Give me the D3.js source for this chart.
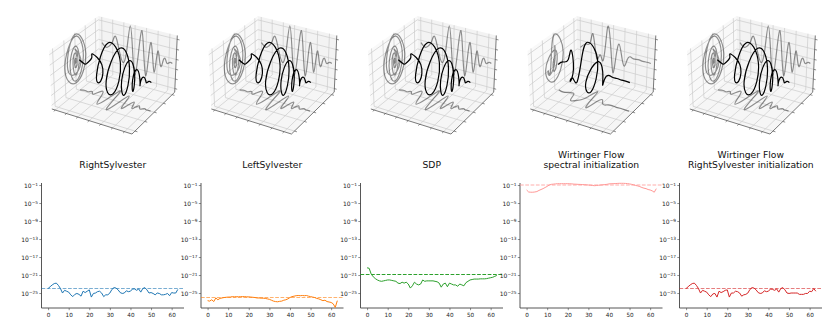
<!DOCTYPE html>
<html><head><meta charset="utf-8">
<script src="https://cdn.jsdelivr.net/npm/d3@7/dist/d3.min.js"></script>
<style>html,body{margin:0;background:#fff}svg{display:block;font-family:"DejaVu Sans",sans-serif}</style>
</head><body><svg id="c" width="830" height="332"></svg>
<script>
const titles = [["RightSylvester"],["LeftSylvester"],["SDP"],["Wirtinger Flow","spectral initialization"],["Wirtinger Flow","RightSylvester initialization"]];
const colors = ["#1f77b4","#ff7f0e","#2ca02c","#ff9896","#d62728"];
const dashAlpha = [0.6,0.6,1,0.8,0.6];
const xTicks = [0,10,20,30,40,50,60];
const yTickExp = [-1,-5,-9,-13,-17,-21,-25];
const refLevels = [-24,-26,-20.9,-1,-24];
const s1 = [-24,-23.6,-23.2,-22.9,-22.8,-23.3,-24,-25,-24.4,-24.6,-24.8,-25.4,-25.8,-25.3,-25.1,-25.3,-25.7,-24.6,-24.9,-24.6,-24.3,-25.9,-25.1,-25,-24.7,-24.6,-25,-25.8,-25.4,-25.4,-25,-24.2,-23.8,-23.9,-24.3,-24.9,-25.1,-25,-24.5,-24.7,-24.6,-24.1,-24.1,-24.4,-24.1,-24.8,-24,-23.8,-24.3,-25,-24.9,-25.1,-25.4,-25,-25.1,-25.4,-25.4,-25.3,-25.1,-25.6,-24.9,-25,-25,-24.2];
const s2 = [-26.7,-26.8,-26.5,-26.9,-26.1,-26.5,-26.2,-26.1,-26,-25.95,-25.9,-25.9,-25.8,-25.85,-25.8,-25.85,-25.8,-25.8,-25.8,-25.85,-25.85,-25.9,-25.95,-26,-26.1,-26.1,-26.15,-26.15,-26.2,-26.3,-26.4,-26.6,-26.8,-26.9,-26.95,-26.85,-26.8,-26.6,-26.5,-26.3,-26,-25.8,-25.7,-25.6,-25.55,-25.6,-25.55,-25.6,-25.55,-25.7,-25.8,-25.9,-26,-26.2,-26.3,-26.5,-26.7,-26.6,-26.9,-27,-27.1,-27.4,-28.2,-26.7];
const s3 = [-19.4,-19.5,-20.8,-21.4,-21.8,-22.1,-22.3,-22.4,-22.3,-22.2,-22.1,-22.1,-22.2,-22.3,-22.4,-22.8,-22.9,-22.6,-22.8,-22.6,-23,-23.9,-23.4,-22.6,-23,-23.2,-23,-22.1,-22.4,-22.3,-22.3,-22.3,-22.3,-22.4,-22.5,-22.8,-23.7,-23,-22.8,-23.6,-22.8,-23,-23.2,-23.2,-23.5,-23,-23.2,-23.4,-22.7,-22.4,-22.1,-22,-21.9,-21.9,-21.9,-21.85,-21.85,-21.85,-21.8,-21.7,-21.6,-21.5,-21.3,-21.1];
const s4 = [-2.1,-2.55,-2.6,-2.6,-2.55,-2.45,-2.2,-2,-1.8,-1.55,-1.3,-1,-0.85,-0.8,-0.75,-0.7,-0.7,-0.7,-0.7,-0.7,-0.7,-0.72,-0.75,-0.8,-0.82,-0.85,-0.87,-0.9,-0.92,-0.95,-1,-1.05,-1.1,-1.15,-1.1,-1.05,-1,-0.95,-0.9,-0.85,-0.75,-0.72,-0.7,-0.68,-0.65,-0.62,-0.62,-0.62,-0.65,-0.68,-0.75,-0.85,-0.95,-1.1,-1.2,-1.35,-1.55,-1.7,-1.8,-2,-2.1,-2.3,-2.6,-1.8];
const s5 = [-24,-23.6,-23.2,-22.9,-22.8,-23.3,-24,-25,-24.4,-24.6,-24.8,-25.4,-25.8,-25.2,-25.1,-25.9,-24.6,-24.9,-24.7,-24.4,-24.3,-25.9,-25,-25,-24.6,-24.7,-25,-25.7,-25.4,-25.3,-25,-24.2,-23.8,-23.9,-24.3,-24.9,-25.1,-25,-24.5,-24.7,-24.6,-24.1,-24.2,-24.4,-24.1,-24.8,-24,-23.8,-24.3,-25,-25.1,-25,-25,-25,-25,-25.3,-25.3,-25.3,-25.1,-25.1,-24.6,-24.7,-24,-24.6];
const allSeries = [s1,s2,s3,s4,s5];

// estimated 3D signal knots: sample index, real part, imaginary part
const sigT  = [0,4,7,9.8,12.6,16,19.5,22.8,25.8,28.2,30.5,33.3,36,38.2,40.4,42.3,44.2,46,47.7,49.2,50.6,52,53.6,55,56.5,57.8,59,61,63];
const sigRe = [.1,-.05,.05,.25,.5,-.05,-.5,.05,1.08,0,-.88,.05,1,0,-.8,0,.62,0,-.55,0,.35,-.02,-.25,0,.13,0,-.06,.02,0];
const sigIm = [.02,.06,.04,.1,0,.25,0,-.38,0,.5,0,-.5,0,.38,0,-.26,0,.18,0,-.12,0,.08,0,-.05,0,.03,0,0,0];
const specT  = [0,5,9,11.5,14,16,18.5,21,23.5,25.5,28,30,32.5,35,37.5,40,42.5,45,48,52,56,60,63];
const specRe = [-.1,.1,.2,.6,-.1,-.4,-.2,-.4,.5,1.05,.1,-.8,-.1,.45,0,-.4,-.1,.05,0,.02,0,.01,0];
const specIm = [.03,-.02,.04,.06,.02,-.25,-.28,-.2,-.1,.1,.45,0,-.4,0,.15,0,-.05,0,.02,0,.01,0,0];
const signals = [[sigT,sigRe,sigIm],[sigT,sigRe,sigIm],[sigT,sigRe,sigIm],[specT,specRe,specIm],[sigT,sigRe,sigIm]];

const tGrid = [0,10,20,30,40,50,60];
const yGrid = [-1,-.5,0,.5,1];
const zGrid = [-1,-.6,-.2,.2,.6,1];

const svg = d3.select("#c");
const panelStep = 159.5, plotLeft = 41.5, plotW = 142.5, plotTop = 183, plotBottom = 308;
const a = .5714, c = .4286;
const xq = d3.scaleLinear().domain([-3.15,66.15]).range([-a,a]);
const yq = d3.scaleLinear().domain([-1.15,1.15]).range([-a,a]);
const zq = d3.scaleLinear().domain([-1.15,1.15]).range([-c,c]);
const px = d3.scaleLinear().domain([-.0813,.0783]).range([49,177.3]);
const py = d3.scaleLinear().domain([.0798,-.0798]).range([10.7,134]);
const W = [.433,-.75,.5], U = [.866,.5,0], V = [-.25,.433,.866];
const dot = (p,q)=>p[0]*q[0]+p[1]*q[1]+p[2]*q[2];
function proj(t,y,z){
  const q=[xq(t),yq(y),zq(z)], d=10-dot(W,q);
  return [px(dot(U,q)/d), py(dot(V,q)/d)];
}
const [T0,T1]=xq.domain(), [Y0,Y1]=yq.domain(), [Z0,Z1]=zq.domain();
const line3 = d3.line().curve(d3.curveNatural);
const straight = d3.line();

function draw3d(g,sig){
  const poly=(pts,fill)=>g.append("path").attr("d",straight(pts)+"Z").attr("fill",fill).attr("stroke","none");
  poly([proj(T0,Y0,Z0),proj(T0,Y1,Z0),proj(T0,Y1,Z1),proj(T0,Y0,Z1)],"#f9f9f9");
  poly([proj(T0,Y1,Z0),proj(T1,Y1,Z0),proj(T1,Y1,Z1),proj(T0,Y1,Z1)],"#f3f3f3");
  poly([proj(T0,Y0,Z0),proj(T1,Y0,Z0),proj(T1,Y1,Z0),proj(T0,Y1,Z0)],"#f6f6f6");
  const seg=(p,q,col,w)=>g.append("path").attr("d",straight([p,q])).attr("stroke",col).attr("stroke-width",w).attr("fill","none");
  const gc="#cbcbcb";
  tGrid.forEach(t=>{seg(proj(t,Y0,Z0),proj(t,Y1,Z0),gc,.7);seg(proj(t,Y1,Z0),proj(t,Y1,Z1),gc,.7);});
  yGrid.forEach(y=>{seg(proj(T1,y,Z0),proj(T0,y,Z0),gc,.7);seg(proj(T0,y,Z0),proj(T0,y,Z1),gc,.7);});
  zGrid.forEach(z=>{seg(proj(T0,Y0,z),proj(T0,Y1,z),gc,.7);seg(proj(T0,Y1,z),proj(T1,Y1,z),gc,.7);});
  const dk="#444";
  seg(proj(T0,Y0,Z0),proj(T1,Y0,Z0),dk,.7);
  seg(proj(T1,Y0,Z0),proj(T1,Y1,Z0),dk,.7);
  seg(proj(T1,Y1,Z0),proj(T1,Y1,Z1),dk,.7);
  tGrid.forEach(t=>seg(proj(t,Y0,Z0),proj(t,Y0-.07,Z0),dk,.6));
  yGrid.forEach(y=>seg(proj(T1,y,Z0),proj(T1+2,y,Z0),dk,.6));
  zGrid.forEach(z=>seg(proj(T1,Y1,z),proj(T1+2,Y1,z),dk,.6));
  const [ts,re,im]=sig;
  const gray=(fn)=>g.append("path").attr("d",line3(ts.map((t,i)=>fn(t,im[i],re[i])))).attr("fill","none").attr("stroke","#000").attr("stroke-opacity",.42).attr("stroke-width",1.2);
  gray((t,y,z)=>proj(T0,y,z));
  gray((t,y,z)=>proj(t,Y1,z));
  gray((t,y,z)=>proj(t,y,Z0));
  g.append("path").attr("d",line3(ts.map((t,i)=>proj(t,im[i],re[i])))).attr("fill","none").attr("stroke","#000").attr("stroke-width",1.2);
}

function draw2d(g,i){
  const x=d3.scaleLinear().domain([-3.2,66]).range([0,plotW]);
  const y=d3.scaleLinear().domain([-28.33,-.55]).range([plotBottom,plotTop]);
  const ax=g.append("g").attr("transform",`translate(0,${plotBottom})`).call(d3.axisBottom(x).tickValues(xTicks).tickSize(2.2).tickPadding(3.2));
  const ay=g.append("g").call(d3.axisLeft(y).tickValues(yTickExp).tickSize(2.2).tickPadding(2).tickFormat(()=>""));
  [ax,ay].forEach(s=>{s.selectAll("path").attr("stroke","#444").attr("stroke-width",.9).attr("d",s===ax?`M0,0H${plotW}`:`M0,${plotTop}V${plotBottom}`);
    s.selectAll("line").attr("stroke","#444").attr("stroke-width",.6);});
  ax.selectAll("text").attr("font-size",5.7).attr("font-family","DejaVu Sans").attr("fill","#222");
  ay.selectAll(".tick").each(function(e){
    const t=d3.select(this).select("text").attr("font-size",6).attr("font-family","DejaVu Sans").attr("fill","#222").attr("x",-3.5).attr("dy","0.4em");
    t.append("tspan").text("10");
    t.append("tspan").attr("font-size",4.3).attr("dy","-2.2").text("\u2212"+Math.abs(e));
  });
  g.append("line").attr("x1",0).attr("x2",plotW).attr("y1",y(refLevels[i])).attr("y2",y(refLevels[i]))
    .attr("stroke",colors[i]).attr("stroke-opacity",dashAlpha[i]).attr("stroke-width",1.1).attr("stroke-dasharray","3.7,1.6");
  g.append("path").attr("d",d3.line().x((d,k)=>x(k)).y(d=>y(d))(allSeries[i])).attr("fill","none").attr("stroke",colors[i]).attr("stroke-width",1);
  const tt=titles[i];
  tt.forEach((s,k)=>g.append("text").attr("x",plotW/2).attr("y",168-(tt.length-1-k)*10.5).attr("text-anchor","middle").attr("font-size",9.2).attr("fill","#111").text(s));
}

titles.forEach((t,i)=>{
  const off=i*panelStep;
  draw3d(svg.append("g").attr("transform",`translate(${off},0)`),signals[i]);
  draw2d(svg.append("g").attr("transform",`translate(${plotLeft+off},0)`),i);
});
</script></body></html>
